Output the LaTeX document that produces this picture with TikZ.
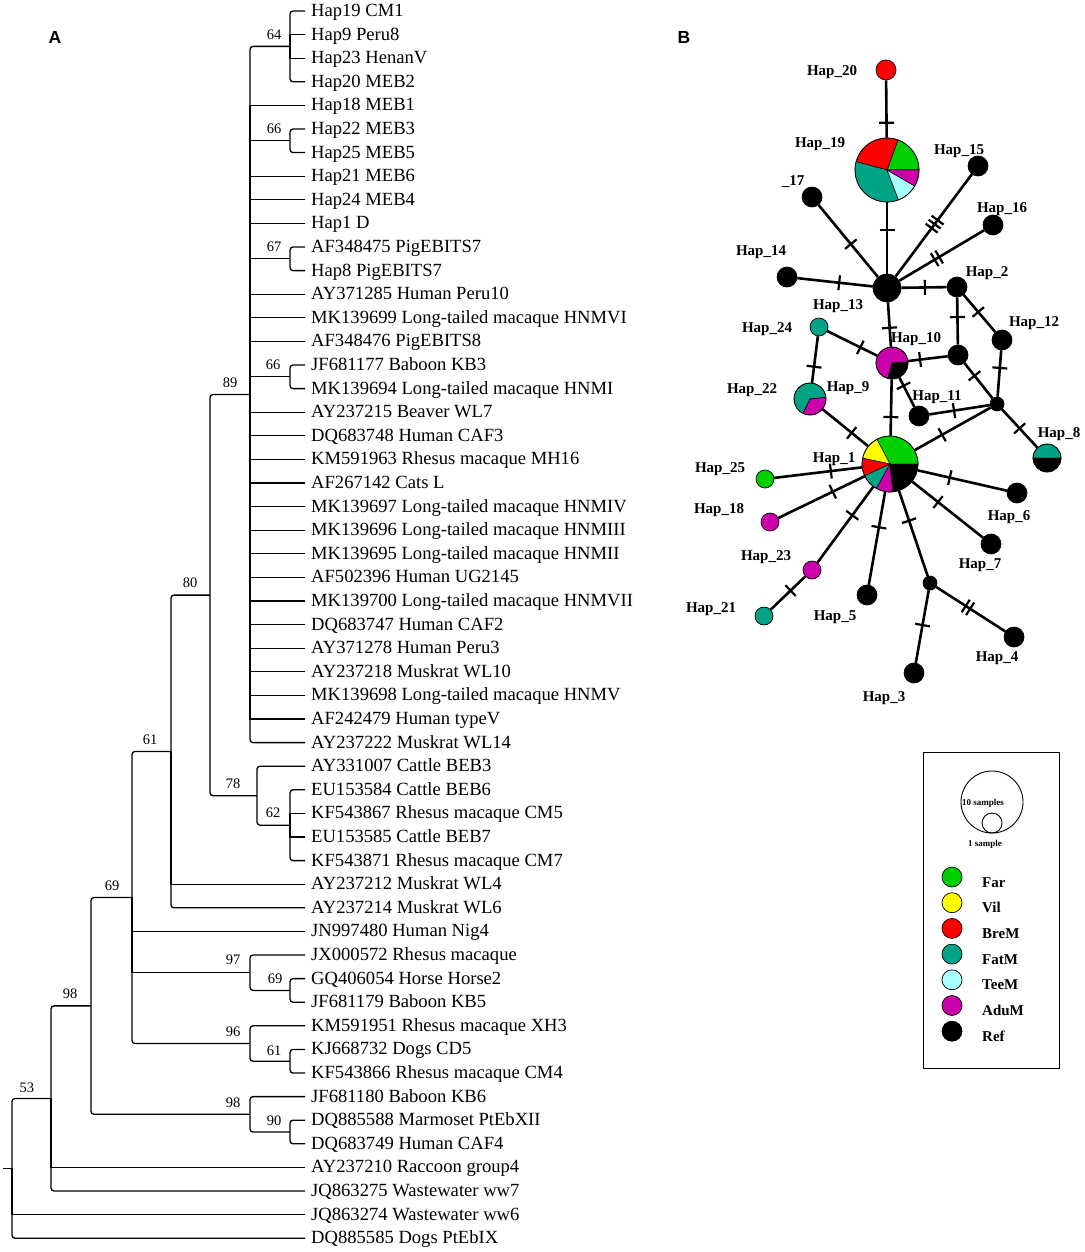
\documentclass[tikz,border=0pt]{standalone}
\usepackage{fontspec}
\setmainfont{Liberation Serif}
\newfontfamily\lsans{Liberation Sans}
\usetikzlibrary{decorations.markings}
\definecolor{cFar}{RGB}{0,208,0}
\definecolor{cVil}{RGB}{255,255,0}
\definecolor{cBre}{RGB}{255,0,0}
\definecolor{cFat}{RGB}{0,163,131}
\definecolor{cTee}{RGB}{170,255,255}
\definecolor{cAdu}{RGB}{204,0,170}
\definecolor{cRef}{RGB}{0,0,0}
\newcommand\pslice[5]{\filldraw[fill=#5, draw=black, line width=0.5pt] (#1) -- ++(#3:#2) arc[start angle=#3, end angle=#4, radius=#2] -- cycle;}
\begin{document}
\begin{tikzpicture}[x=1pt,y=1pt,
  declare function={ly(\k)=-(11+(\k-1)*23.6);},
  br/.style={line width=1.3pt},
  brr/.style={line width=1.3pt, rounded corners=3pt},
  leaf/.style={anchor=base west, inner sep=0pt, font=\fontsize{18.6}{20}\selectfont},
  supl/.style={inner sep=0pt, font=\fontsize{14.5}{15}\selectfont},
  hn/.style={circle, draw=black, line width=0.7pt, inner sep=0pt, minimum size=#1},
  ed/.style={line width=2.6pt},
  tk/.style={postaction={decorate,decoration={markings,mark=at position #1 with {\draw[line width=2.2pt] (0pt,-7.5pt) -- (0pt,7.5pt);}}}},
  tkk/.style={postaction={decorate,decoration={markings,mark=at position #1 with {\draw[line width=2.2pt] (-2.6pt,-7.5pt) -- (-2.6pt,7.5pt) (2.6pt,-7.5pt) -- (2.6pt,7.5pt);}}}},
  tkkk/.style={postaction={decorate,decoration={markings,mark=at position #1 with {\draw[line width=2.2pt] (-5pt,-7.5pt) -- (-5pt,7.5pt) (0pt,-7.5pt) -- (0pt,7.5pt) (5pt,-7.5pt) -- (5pt,7.5pt);}}}},
  hl/.style={inner sep=0pt, font=\bfseries\fontsize{15}{16}\selectfont},
  lg/.style={anchor=base west, inner sep=0pt, font=\bfseries\fontsize{15}{16}\selectfont}
]
\fill[white] (0,0) rectangle (1084,-1252);
\useasboundingbox (0,0) rectangle (1084,-1252);

% panel letters
\node[inner sep=0pt, font=\lsans\bfseries\fontsize{17.5}{19}\selectfont] (pA) at (55,-37) {A};
\node[inner sep=0pt, font=\lsans\bfseries\fontsize{17.5}{19}\selectfont] (pB) at (684,-37) {B};

% ---------------- tree leaves ----------------
\foreach \i/\t in {1/Hap19 CM1, 2/Hap9 Peru8, 3/Hap23 HenanV, 4/Hap20 MEB2, 5/Hap18 MEB1,
  6/Hap22 MEB3, 7/Hap25 MEB5, 8/Hap21 MEB6, 9/Hap24 MEB4, 10/Hap1 D,
  11/AF348475 PigEBITS7, 12/Hap8 PigEBITS7, 13/AY371285 Human Peru10,
  14/MK139699 Long-tailed macaque HNMVI, 15/AF348476 PigEBITS8, 16/JF681177 Baboon KB3,
  17/MK139694 Long-tailed macaque HNMI, 18/AY237215 Beaver WL7, 19/DQ683748 Human CAF3,
  20/KM591963 Rhesus macaque MH16, 21/AF267142 Cats L, 22/MK139697 Long-tailed macaque HNMIV,
  23/MK139696 Long-tailed macaque HNMIII, 24/MK139695 Long-tailed macaque HNMII,
  25/AF502396 Human UG2145, 26/MK139700 Long-tailed macaque HNMVII, 27/DQ683747 Human CAF2,
  28/AY371278 Human Peru3, 29/AY237218 Muskrat WL10, 30/MK139698 Long-tailed macaque HNMV,
  31/AF242479 Human typeV, 32/AY237222 Muskrat WL14, 33/AY331007 Cattle BEB3,
  34/EU153584 Cattle BEB6, 35/KF543867 Rhesus macaque CM5, 36/EU153585 Cattle BEB7,
  37/KF543871 Rhesus macaque CM7, 38/AY237212 Muskrat WL4, 39/AY237214 Muskrat WL6,
  40/JN997480 Human Nig4, 41/JX000572 Rhesus macaque, 42/GQ406054 Horse Horse2,
  43/JF681179 Baboon KB5, 44/KM591951 Rhesus macaque XH3, 45/KJ668732 Dogs CD5,
  46/KF543866 Rhesus macaque CM4, 47/JF681180 Baboon KB6, 48/DQ885588 Marmoset PtEbXII,
  49/DQ683749 Human CAF4, 50/AY237210 Raccoon group4, 51/JQ863275 Wastewater ww7,
  52/JQ863274 Wastewater ww6, 53/DQ885585 Dogs PtEbIX}
{
  \coordinate (l\i) at (305,{ly(\i)});
  \node[leaf] (t\i) at (311,{ly(\i)-5.5}) {\t};
}

% internal nodes
\coordinate (N64) at (290,{ly(2.5)});
\coordinate (N66a) at (290,{ly(6.5)});
\coordinate (N67) at (290,{ly(11.5)});
\coordinate (N66b) at (290,{ly(16.5)});
\coordinate (N89) at (250,{ly(17.25)});
\coordinate (N62) at (290,{ly(35.5)});
\coordinate (N78) at (257,{ly(34.25)});
\coordinate (N80) at (210,{ly(25.75)});
\coordinate (N61) at (171,{ly(32.375)});
\coordinate (N69b) at (290,{ly(42.5)});
\coordinate (N97) at (250,{ly(41.75)});
\coordinate (N61b) at (290,{ly(45.5)});
\coordinate (N96) at (250,{ly(44.75)});
\coordinate (N69) at (132,{ly(38.5625)});
\coordinate (N90) at (290,{ly(48.5)});
\coordinate (N98b) at (250,{ly(47.75)});
\coordinate (N98a) at (91,{ly(43.15625)});
\coordinate (N53) at (51,{ly(47.078125)});
\coordinate (R) at (12,{ly(50.0390625)});
\coordinate (R0) at (3,{ly(50.0390625)});

% branches
\draw[br] (R0) -- (R);
\draw[brr] (R) |- (N53); \draw[br] (R) |- (l52); \draw[brr] (R) |- (l53);
\draw[brr] (N53) |- (N98a); \draw[br] (N53) |- (l50); \draw[brr] (N53) |- (l51);
\draw[brr] (N98a) |- (N69); \draw[brr] (N98a) |- (N98b);
\draw[brr] (N98b) |- (l47); \draw[brr] (N98b) |- (N90);
\draw[brr] (N90) |- (l48); \draw[brr] (N90) |- (l49);
\draw[brr] (N69) |- (N61); \draw[br] (N69) |- (l40); \draw[br] (N69) |- (N97); \draw[brr] (N69) |- (N96);
\draw[brr] (N97) |- (l41); \draw[brr] (N97) |- (N69b);
\draw[brr] (N69b) |- (l42); \draw[brr] (N69b) |- (l43);
\draw[brr] (N96) |- (l44); \draw[brr] (N96) |- (N61b);
\draw[brr] (N61b) |- (l45); \draw[brr] (N61b) |- (l46);
\draw[brr] (N61) |- (N80); \draw[br] (N61) |- (l38); \draw[brr] (N61) |- (l39);
\draw[brr] (N80) |- (N89); \draw[brr] (N80) |- (N78);
\draw[brr] (N78) |- (l33); \draw[brr] (N78) |- (N62);
\draw[brr] (N62) |- (l34); \draw[br] (N62) |- (l35); \draw[br] (N62) |- (l36); \draw[brr] (N62) |- (l37);
\draw[brr] (N89) |- (N64); \draw[brr] (N89) |- (l32);
\foreach \j in {5,8,9,10,13,14,15,18,19,20,21,22,23,24,25,26,27,28,29,30,31} {\draw[br] (N89) |- (l\j);}
\draw[br] (N89) |- (N66a); \draw[br] (N89) |- (N67); \draw[br] (N89) |- (N66b);
\draw[brr] (N64) |- (l1); \draw[br] (N64) |- (l2); \draw[br] (N64) |- (l3); \draw[brr] (N64) |- (l4);
\draw[brr] (N66a) |- (l6); \draw[brr] (N66a) |- (l7);
\draw[brr] (N67) |- (l11); \draw[brr] (N67) |- (l12);
\draw[brr] (N66b) |- (l16); \draw[brr] (N66b) |- (l17);

% support values
\node[supl] (s64) at (274,{ly(2.5)+12}) {64};
\node[supl] (s66a) at (274,{ly(6.5)+12}) {66};
\node[supl] (s67) at (274,{ly(11.5)+12}) {67};
\node[supl] (s66b) at (273,{ly(16.5)+12}) {66};
\node[supl] (s89) at (230,{ly(17.25)+12}) {89};
\node[supl] (s80) at (190,{ly(25.75)+12}) {80};
\node[supl] (s78) at (233,{ly(34.25)+12}) {78};
\node[supl] (s62) at (273,{ly(35.5)+12}) {62};
\node[supl] (s61) at (150,{ly(32.375)+12}) {61};
\node[supl] (s69) at (112,{ly(38.5625)+12}) {69};
\node[supl] (s97) at (233,{ly(41.75)+13}) {97};
\node[supl] (s69b) at (275,{ly(42.5)+12}) {69};
\node[supl] (s96) at (233,{ly(44.75)+12}) {96};
\node[supl] (s61b) at (274,{ly(45.5)+10}) {61};
\node[supl] (s98b) at (233,{ly(47.75)+12}) {98};
\node[supl] (s90) at (274,{ly(48.5)+11}) {90};
\node[supl] (s98a) at (70,{ly(43.15625)+12}) {98};
\node[supl] (s53) at (27,{ly(47.078125)+11}) {53};

% ---------------- network ----------------
\coordinate (p19) at (887,-170);
\coordinate (p10) at (892,-363);
\coordinate (p22) at (810,-399);
\coordinate (p8) at (1047,-458);
\coordinate (p1) at (890,-464);

% pie slices
\pslice{p19}{32}{0}{70}{cFar}
\pslice{p19}{32}{70}{165}{cBre}
\pslice{p19}{32}{165}{291}{cFat}
\pslice{p19}{32}{291}{330}{cTee}
\pslice{p19}{32}{330}{360}{cAdu}

\pslice{p1}{28}{0}{118}{cFar}
\pslice{p1}{28}{118}{168}{cVil}
\pslice{p1}{28}{168}{205}{cBre}
\pslice{p1}{28}{205}{241}{cFat}
\pslice{p1}{28}{241}{276}{cAdu}
\pslice{p1}{28}{276}{360}{cRef}

\pslice{p10}{16}{4}{255}{cAdu}
\pslice{p10}{16}{255}{364}{cRef}

\pslice{p22}{16}{6}{244}{cFat}
\pslice{p22}{16}{244}{366}{cAdu}

\pslice{p8}{14}{0}{180}{cFat}
\pslice{p8}{14}{180}{360}{cRef}

% nodes
\node[hn=64pt] (n19) at (p19) {};
\node[hn=56pt] (n1) at (p1) {};
\node[hn=32pt] (n10) at (p10) {};
\node[hn=32pt] (n22) at (p22) {};
\node[hn=28pt] (n8) at (p8) {};
\node[hn=20pt, fill=cBre] (n20) at (886,-70) {};
\node[hn=20pt, fill=black] (n17) at (812,-197) {};
\node[hn=20pt, fill=black] (n15) at (978,-166) {};
\node[hn=20pt, fill=black] (n16) at (993,-225) {};
\node[hn=20pt, fill=black] (n14) at (787,-277) {};
\node[hn=28pt, fill=black] (nC) at (887,-288) {};
\node[hn=20pt, fill=black] (n2) at (957,-287) {};
\node[hn=18pt, fill=cFat] (n13) at (819,-327) {};
\node[hn=20pt, fill=black] (nX1) at (958,-355) {};
\node[hn=20pt, fill=black] (n12) at (1002,-340) {};
\node[hn=14pt, fill=black] (nX2) at (997,-404) {};
\node[hn=20pt, fill=black] (n11) at (919,-416) {};
\node[hn=18pt, fill=cFar] (n25) at (765,-479) {};
\node[hn=18pt, fill=cAdu] (n18) at (770,-522) {};
\node[hn=20pt, fill=black] (n6) at (1017,-493) {};
\node[hn=18pt, fill=cAdu] (n23) at (812,-570) {};
\node[hn=18pt, fill=cFat] (n21) at (764,-616) {};
\node[hn=20pt, fill=black] (n5) at (867,-595) {};
\node[hn=14pt, fill=black] (nX3) at (930,-583) {};
\node[hn=20pt, fill=black] (n7) at (991,-544) {};
\node[hn=20pt, fill=black] (n4) at (1014,-637) {};
\node[hn=20pt, fill=black] (n3) at (914,-673) {};

% edges
\draw[ed,tk=0.74] (n20) -- (n19);
\draw[ed,tk=0.39] (n19) -- (nC);
\draw[ed,tk=0.544] (n17) -- (nC);
\draw[ed,tkkk=0.488] (n15) -- (nC);
\draw[ed,tkk=0.558] (n16) -- (nC);
\draw[ed,tk=0.555] (n14) -- (nC);
\draw[ed,tk=0.52] (nC) -- (n2);
\draw[ed,tk=0.575] (nC) -- (n10);
\draw[ed,tk=0.417] (n2) -- (nX1);
\draw[ed,tk=0.46] (n2) -- (n12);
\draw[ed,tk=0.66] (n13) -- (n10);
\draw[ed,tk=0.655] (n13) -- (n22);
\draw[ed,tk=0.30] (n10) -- (nX1);
\draw[ed,tk=0.28] (n10) -- (n11);
\draw[ed,tk=0.36] (nX1) -- (nX2);
\draw[ed,tk=0.38] (n12) -- (nX2);
\draw[ed,tk=0.41] (n11) -- (nX2);
\draw[ed,tk=0.50] (nX2) -- (n8);
\draw[ed,tk=0.64] (nX2) -- (n1);
\draw[ed,tk=0.67] (n10) -- (n1);
\draw[ed,tk=0.64] (n22) -- (n1);
\draw[ed,tk=0.354] (n1) -- (n25);
\draw[ed,tk=0.369] (n1) -- (n18);
\draw[ed,tk=0.376] (n1) -- (n23);
\draw[ed,tk=0.427] (n23) -- (n21);
\draw[ed,tk=0.38] (n1) -- (n5);
\draw[ed,tk=0.35] (n1) -- (nX3);
\draw[ed,tk=0.48] (nX3) -- (n3);
\draw[ed,tkk=0.46] (nX3) -- (n4);
\draw[ed,tk=0.36] (n1) -- (n6);
\draw[ed,tk=0.366] (n1) -- (n7);

% network labels
\node[hl] (h20) at (832,-72) {Hap\_20};
\node[hl] (h19) at (820,-144) {Hap\_19};
\node[hl] (h17) at (793,-182) {\_17};
\node[hl] (h15) at (959,-151) {Hap\_15};
\node[hl] (h16) at (1002,-209) {Hap\_16};
\node[hl] (h14) at (761,-252) {Hap\_14};
\node[hl] (h2) at (987,-273) {Hap\_2};
\node[hl] (h13) at (838,-306) {Hap\_13};
\node[hl] (h24) at (767,-329) {Hap\_24};
\node[hl] (h10) at (916,-339) {Hap\_10};
\node[hl] (h12) at (1034,-323) {Hap\_12};
\node[hl] (h22) at (752,-390) {Hap\_22};
\node[hl] (h9) at (848,-388) {Hap\_9};
\node[hl] (h11) at (937,-397) {Hap\_11};
\node[hl] (h8) at (1059,-434) {Hap\_8};
\node[hl] (h1) at (834,-459) {Hap\_1};
\node[hl] (h25) at (720,-469) {Hap\_25};
\node[hl] (h18) at (719,-510) {Hap\_18};
\node[hl] (h6) at (1009,-517) {Hap\_6};
\node[hl] (h23) at (766,-557) {Hap\_23};
\node[hl] (h7) at (980,-565) {Hap\_7};
\node[hl] (h21) at (711,-609) {Hap\_21};
\node[hl] (h5) at (835,-617) {Hap\_5};
\node[hl] (h4) at (997,-658) {Hap\_4};
\node[hl] (h3) at (884,-698) {Hap\_3};

% ---------------- legend ----------------
\node[draw, line width=0.9pt, minimum width=136pt, minimum height=316pt, inner sep=0pt] (leg) at (991,-910) {};
\node[circle, draw, line width=0.9pt, minimum size=62pt, inner sep=0pt] (big) at (992,-802) {};
\node[circle, draw, line width=0.9pt, minimum size=20pt, inner sep=0pt] (small) at (992,-823) {};
\node[inner sep=0pt, font=\bfseries\fontsize{9}{10}\selectfont] (t10) at (983,-803) {10 samples};
\node[inner sep=0pt, font=\bfseries\fontsize{9}{10}\selectfont] (t1) at (985,-844) {1 sample};
\foreach \n/\c/\t [count=\k from 0] in {far/cFar/Far, vil/cVil/Vil, bre/cBre/BreM, fat/cFat/FatM, tee/cTee/TeeM, adu/cAdu/AduM, ref/cRef/Ref} {
  \node[hn=20pt, fill=\c] (lc\n) at (952,{-(877+25.7*\k)}) {};
  \node[lg] (lt\n) at (982,{-(887+25.7*\k)}) {\t};
}
\end{tikzpicture}
\end{document}
